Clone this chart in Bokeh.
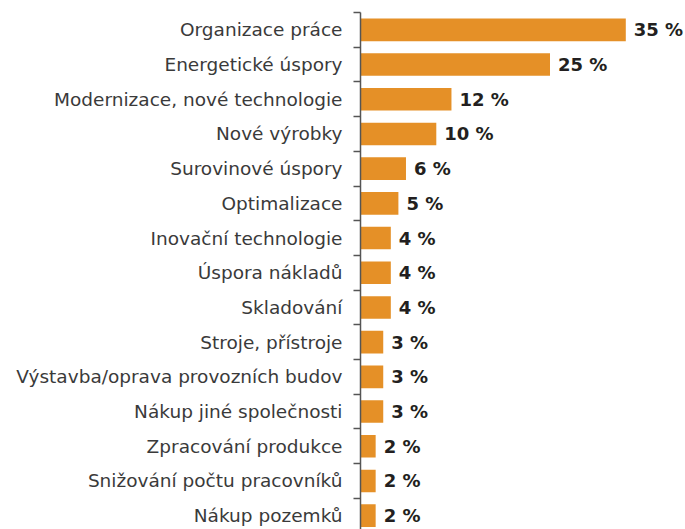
from bokeh.plotting import figure
from bokeh.models import Range1d, FixedTicker, ColumnDataSource
from bokeh.core.properties import value
from bokeh.embed import file_html
from bokeh.resources import INLINE

categories = ["Organizace práce", "Energetické úspory", "Modernizace, nové technologie",
              "Nové výrobky", "Surovinové úspory", "Optimalizace", "Inovační technologie",
              "Úspora nákladů", "Skladování", "Stroje, přístroje",
              "Výstavba/oprava provozních budov", "Nákup jiné společnosti",
              "Zpracování produkce", "Snižování počtu pracovníků", "Nákup pozemků"]
values = [35, 25, 12, 10, 6, 5, 4, 4, 4, 3, 3, 3, 2, 2, 2]
value_labels = [f"{v} %" for v in values]

W, H = 685, 529
left, top = 360, 12
band_px = 34.7
px_per_unit = 7.58
frame_h = H - top
frame_w = W - left

pos = [i + 0.5 for i in range(len(categories))]
src = ColumnDataSource(dict(y=pos, v=values, lab=value_labels))

p = figure(width=W, height=H, output_backend="svg", toolbar_location=None,
           x_range=Range1d(0, frame_w / px_per_unit),
           y_range=Range1d(frame_h / band_px, 0),
           min_border_left=left, min_border_right=0, min_border_top=top, min_border_bottom=0)
p.outline_line_color = None
p.xgrid.visible = False
p.ygrid.visible = False
p.xaxis.visible = False
p.background_fill_color = None
p.border_fill_color = None

p.hbar(y="y", right="v", left=0, height=0.65, source=src, fill_color="#E59027", line_color=None)
p.text(x="v", y="y", text="lab", source=src, x_offset=8, text_baseline="middle",
       text_align="left", text_font=value("DejaVu Sans"), text_font_style="bold",
       text_font_size="18px", text_color="#231F20")

ax = p.yaxis[0]
ax.ticker = FixedTicker(ticks=pos, minor_ticks=list(range(len(categories) + 1)))
ax.major_label_overrides = {pp: c for pp, c in zip(pos, categories)}
ax.major_tick_out = 0
ax.major_tick_in = 0
ax.minor_tick_out = 7
ax.minor_tick_in = 0
ax.minor_tick_line_color = "#555555"
ax.minor_tick_line_width = 1.5
ax.axis_line_color = "#555555"
ax.axis_line_width = 1.5
ax.major_label_standoff = 11
ax.major_label_text_font = "DejaVu Sans"
ax.major_label_text_font_size = "18.5px"
ax.major_label_text_color = "#3a3a3a"

open("out.html", "w").write(file_html(p, INLINE))
